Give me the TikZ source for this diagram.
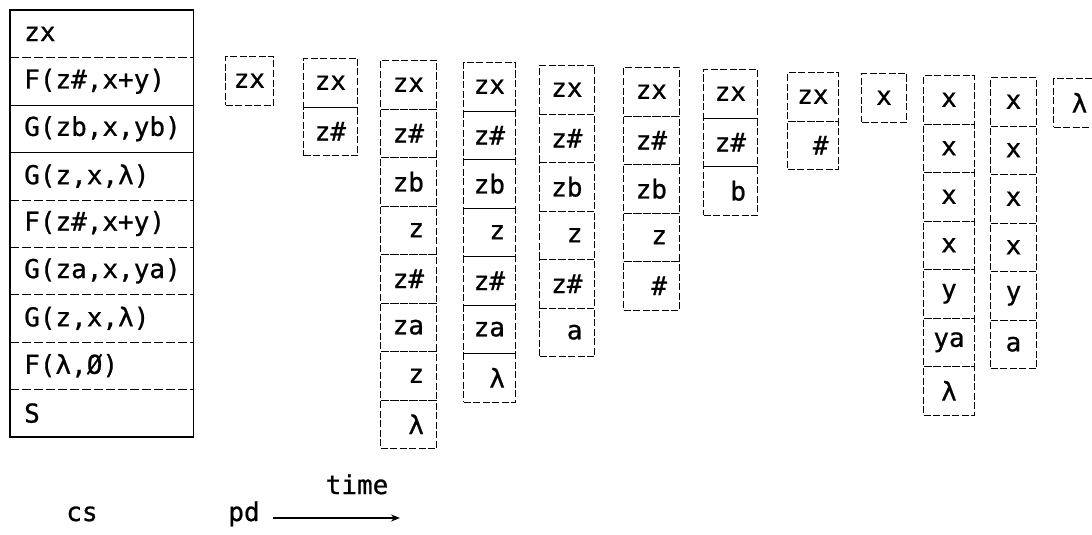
\documentclass[tikz,border=0pt]{standalone}
\usepackage{fontspec}
\setmonofont[FakeBold=0.8]{DejaVu Sans Mono}
\usetikzlibrary{arrows.meta}
\tikzset{
  txt/.style={font=\ttfamily\fontsize{26}{30}\selectfont},
  cell/.style={txt, draw, line width=1pt, dash pattern=on 7pt off 2.5pt, inner sep=0pt, minimum height=48.5pt, anchor=north west},
  row/.style={txt, inner xsep=14pt, inner ysep=0pt, text width=155pt, align=left, minimum height=47.4pt, anchor=north west},
  frame/.style={line width=1.3pt},
  divsolid/.style={line width=1.1pt},
  divdash/.style={line width=0.9pt, dash pattern=on 9pt off 3pt},
  lbl/.style={txt}
}
\newcommand\mycol[6]{%
  \foreach \t [count=\i] in {#5} {
    \node[cell, minimum width={#3-#2}] (#1r\i) at (#2, {#4+(\i-1)*48.5}) {\makebox[31pt][#6]{\t}};
  }}
\begin{document}
\begin{tikzpicture}[x=1pt,y=-1pt]
\useasboundingbox (0,0) rectangle (1092,535);
% left stack
\node[row] (s1) at (10,10.0) {zx};
\node[row] (s2) at (10,57.4) {F(z\#,x+y)};
\node[row] (s3) at (10,104.8) {G(zb,x,yb)};
\node[row] (s4) at (10,152.2) {G(z,x,λ)};
\node[row] (s5) at (10,199.6) {F(z\#,x+y)};
\node[row] (s6) at (10,247.0) {G(za,x,ya)};
\node[row] (s7) at (10,294.4) {G(z,x,λ)};
\node[row] (s8) at (10,341.8) {F(λ,Ø)};
\node[row] (s9) at (10,389.2) {S};
\draw[frame] (s1.north west) rectangle (s9.south east);
\draw[divdash] (s1.south west) -- (s1.south east);
\draw[divsolid] (s2.south west) -- (s2.south east);
\draw[divsolid] (s3.south west) -- (s3.south east);
\draw[divdash] (s4.south west) -- (s4.south east);
\draw[divdash] (s5.south west) -- (s5.south east);
\draw[divdash] (s6.south west) -- (s6.south east);
\draw[divdash] (s7.south west) -- (s7.south east);
\draw[divdash] (s8.south west) -- (s8.south east);
% columns
\mycol{ca}{225}{273}{56}{zx}{r}
\mycol{cb}{303}{357}{58}{zx,z\#}{r}
\mycol{cc}{380}{436}{60}{zx,z\#,zb,z,z\#,za,z,λ}{r}
\mycol{cd}{463}{515}{62}{zx,z\#,zb,z,z\#,za,λ}{r}
\mycol{ce}{539}{594}{65}{zx,z\#,zb,z,z\#,a}{r}
\mycol{cf}{623}{679}{67}{zx,z\#,zb,z,\#}{r}
\mycol{cg}{703}{757}{69}{zx,z\#,b}{r}
\mycol{ch}{787}{838}{72}{zx,\#}{r}
\mycol{ci}{861}{906}{73}{x}{c}
\mycol{cj}{923}{974}{75}{x,x,x,x,y,ya,λ}{c}
\mycol{ck}{990}{1036}{77}{x,x,x,x,y,a}{c}
\mycol{cl}{1053}{1105}{78}{λ}{c}
% bottom labels
\node[lbl, anchor=base] (cs) at (82,521) {cs};
\node[lbl, anchor=base] (pd) at (244,521) {pd};
\node[lbl, anchor=base] (time) at (357,494) {time};
\coordinate (tend) at (400,518);
\draw[line width=1.3pt, -{Stealth[length=9pt,width=7pt]}] (pd.mid east |- tend) ++(10,0) -- (tend);
\end{tikzpicture}
\end{document}
